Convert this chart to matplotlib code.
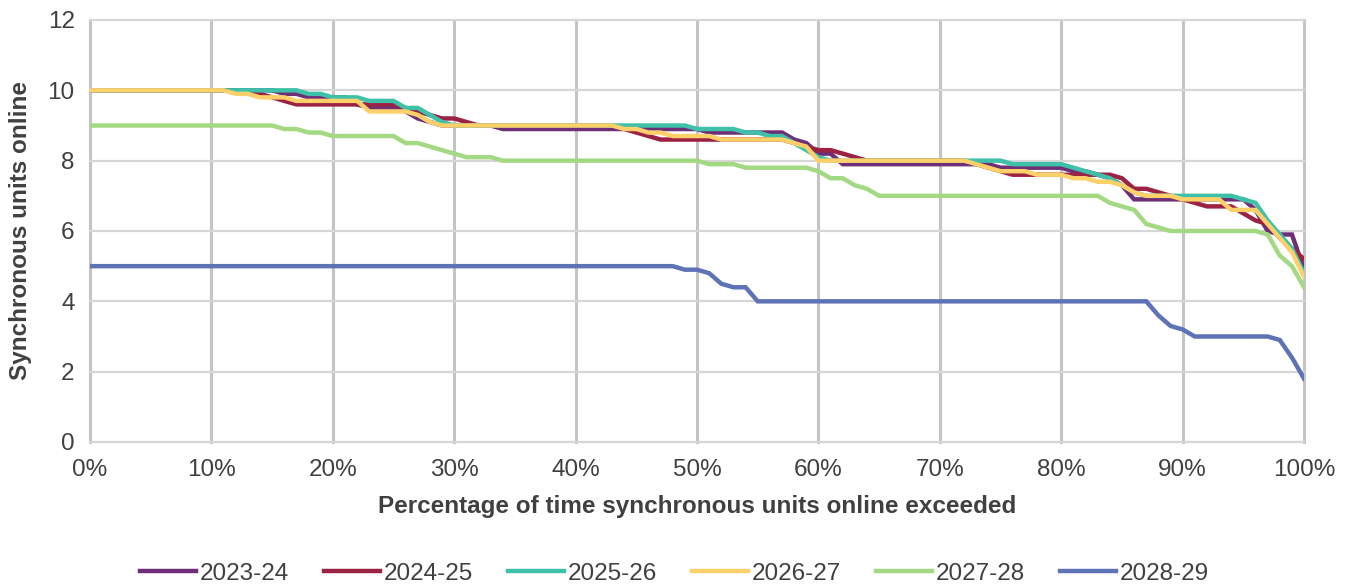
import matplotlib
matplotlib.use("Agg")
import matplotlib.pyplot as plt
from matplotlib.ticker import FuncFormatter

# Percentage of time exceeded (0% .. 100% in 1% steps)
pct = list(range(0, 101))

units_2023_24 = [
    10, 10, 10, 10, 10, 10, 10, 10, 10, 10,
    10, 10, 10, 10, 10, 10, 9.9, 9.9, 9.8, 9.8,
    9.8, 9.8, 9.6, 9.5, 9.5, 9.5, 9.4, 9.2, 9.1, 9.0,
    9.0, 9.0, 9.0, 9.0, 8.9, 8.9, 8.9, 8.9, 8.9, 8.9,
    8.9, 8.9, 8.9, 8.9, 8.9, 8.9, 8.9, 8.9, 8.9, 8.9,
    8.9, 8.8, 8.8, 8.8, 8.8, 8.8, 8.8, 8.8, 8.6, 8.5,
    8.2, 8.2, 7.9, 7.9, 7.9, 7.9, 7.9, 7.9, 7.9, 7.9,
    7.9, 7.9, 7.9, 7.9, 7.9, 7.8, 7.8, 7.8, 7.8, 7.8,
    7.8, 7.7, 7.7, 7.6, 7.5, 7.3, 6.9, 6.9, 6.9, 6.9,
    6.9, 6.9, 6.9, 6.9, 6.9, 6.9, 6.6, 6.0, 5.9, 5.9,
    4.9,
]

units_2024_25 = [
    10, 10, 10, 10, 10, 10, 10, 10, 10, 10,
    10, 10, 10, 9.9, 9.9, 9.8, 9.7, 9.6, 9.6, 9.6,
    9.6, 9.6, 9.6, 9.6, 9.6, 9.6, 9.5, 9.4, 9.3, 9.2,
    9.2, 9.1, 9.0, 9.0, 9.0, 9.0, 9.0, 9.0, 9.0, 9.0,
    9.0, 9.0, 9.0, 9.0, 8.9, 8.8, 8.7, 8.6, 8.6, 8.6,
    8.6, 8.6, 8.6, 8.6, 8.6, 8.6, 8.6, 8.6, 8.5, 8.4,
    8.3, 8.3, 8.2, 8.1, 8.0, 8.0, 8.0, 8.0, 8.0, 8.0,
    8.0, 8.0, 8.0, 7.9, 7.8, 7.7, 7.6, 7.6, 7.6, 7.6,
    7.6, 7.6, 7.6, 7.6, 7.6, 7.5, 7.2, 7.2, 7.1, 7.0,
    6.9, 6.8, 6.7, 6.7, 6.7, 6.5, 6.3, 6.2, 5.8, 5.5,
    5.2,
]

units_2025_26 = [
    10, 10, 10, 10, 10, 10, 10, 10, 10, 10,
    10, 10, 10, 10, 10, 10, 10, 10, 9.9, 9.9,
    9.8, 9.8, 9.8, 9.7, 9.7, 9.7, 9.5, 9.5, 9.3, 9.1,
    9.0, 9.0, 9.0, 9.0, 9.0, 9.0, 9.0, 9.0, 9.0, 9.0,
    9.0, 9.0, 9.0, 9.0, 9.0, 9.0, 9.0, 9.0, 9.0, 9.0,
    8.9, 8.9, 8.9, 8.9, 8.8, 8.8, 8.7, 8.7, 8.5, 8.3,
    8.1, 8.0, 8.0, 8.0, 8.0, 8.0, 8.0, 8.0, 8.0, 8.0,
    8.0, 8.0, 8.0, 8.0, 8.0, 8.0, 7.9, 7.9, 7.9, 7.9,
    7.9, 7.8, 7.7, 7.6, 7.5, 7.3, 7.1, 7.0, 7.0, 7.0,
    7.0, 7.0, 7.0, 7.0, 7.0, 6.9, 6.8, 6.3, 5.9, 5.5,
    4.8,
]

units_2026_27 = [
    10, 10, 10, 10, 10, 10, 10, 10, 10, 10,
    10, 10, 9.9, 9.9, 9.8, 9.8, 9.8, 9.7, 9.7, 9.7,
    9.7, 9.7, 9.7, 9.4, 9.4, 9.4, 9.4, 9.3, 9.1, 9.0,
    9.0, 9.0, 9.0, 9.0, 9.0, 9.0, 9.0, 9.0, 9.0, 9.0,
    9.0, 9.0, 9.0, 9.0, 8.9, 8.9, 8.8, 8.8, 8.7, 8.7,
    8.7, 8.7, 8.6, 8.6, 8.6, 8.6, 8.6, 8.6, 8.5, 8.4,
    8.0, 8.0, 8.0, 8.0, 8.0, 8.0, 8.0, 8.0, 8.0, 8.0,
    8.0, 8.0, 8.0, 7.9, 7.8, 7.7, 7.7, 7.7, 7.6, 7.6,
    7.6, 7.5, 7.5, 7.4, 7.4, 7.3, 7.1, 7.0, 7.0, 7.0,
    6.9, 6.9, 6.9, 6.9, 6.6, 6.6, 6.6, 6.2, 5.8, 5.4,
    4.7,
]

units_2027_28 = [
    9, 9, 9, 9, 9, 9, 9, 9, 9, 9,
    9, 9, 9, 9, 9, 9, 8.9, 8.9, 8.8, 8.8,
    8.7, 8.7, 8.7, 8.7, 8.7, 8.7, 8.5, 8.5, 8.4, 8.3,
    8.2, 8.1, 8.1, 8.1, 8.0, 8.0, 8.0, 8.0, 8.0, 8.0,
    8.0, 8.0, 8.0, 8.0, 8.0, 8.0, 8.0, 8.0, 8.0, 8.0,
    8.0, 7.9, 7.9, 7.9, 7.8, 7.8, 7.8, 7.8, 7.8, 7.8,
    7.7, 7.5, 7.5, 7.3, 7.2, 7.0, 7.0, 7.0, 7.0, 7.0,
    7.0, 7.0, 7.0, 7.0, 7.0, 7.0, 7.0, 7.0, 7.0, 7.0,
    7.0, 7.0, 7.0, 7.0, 6.8, 6.7, 6.6, 6.2, 6.1, 6.0,
    6.0, 6.0, 6.0, 6.0, 6.0, 6.0, 6.0, 5.9, 5.3, 5.0,
    4.4,
]

units_2028_29 = [
    5, 5, 5, 5, 5, 5, 5, 5, 5, 5,
    5, 5, 5, 5, 5, 5, 5, 5, 5, 5,
    5, 5, 5, 5, 5, 5, 5, 5, 5, 5,
    5, 5, 5, 5, 5, 5, 5, 5, 5, 5,
    5, 5, 5, 5, 5, 5, 5, 5, 5, 4.9,
    4.9, 4.8, 4.5, 4.4, 4.4, 4.0, 4.0, 4.0, 4.0, 4.0,
    4.0, 4.0, 4.0, 4.0, 4.0, 4.0, 4.0, 4.0, 4.0, 4.0,
    4.0, 4.0, 4.0, 4.0, 4.0, 4.0, 4.0, 4.0, 4.0, 4.0,
    4.0, 4.0, 4.0, 4.0, 4.0, 4.0, 4.0, 4.0, 3.6, 3.3,
    3.2, 3.0, 3.0, 3.0, 3.0, 3.0, 3.0, 3.0, 2.9, 2.4,
    1.8,
]

series_labels = ["2023-24", "2024-25", "2025-26", "2026-27", "2027-28", "2028-29"]
series_values = [units_2023_24, units_2024_25, units_2025_26,
                 units_2026_27, units_2027_28, units_2028_29]
series_colors = ["#6E2E78", "#9C2244", "#3FC1A9", "#FDD06A", "#A2D982", "#5E72B6"]

plt.rcParams["font.family"] = ["Liberation Sans", "DejaVu Sans"]

fig = plt.figure(figsize=(13.49, 5.88), dpi=100)
ax = fig.add_axes([0.0667, 0.2483, 0.9, 0.7177])

for vals, lab, col in zip(series_values, series_labels, series_colors):
    ax.plot(pct, vals, color=col, lw=3.2, label=lab, solid_joinstyle="miter")

ax.set_xlim(0, 100)
ax.set_ylim(0, 12)
ax.set_xticks(range(0, 101, 10))
ax.set_yticks(range(0, 13, 2))
ax.xaxis.set_major_formatter(FuncFormatter(lambda v, p: f"{int(v)}%"))

for s in ax.spines.values():
    s.set_visible(False)
ax.tick_params(length=0, labelsize=17.5, colors="#404040")
ax.tick_params(axis="x", pad=12)
ax.tick_params(axis="y", pad=11)

ax.grid(axis="x", color="#C4C4C4", lw=2.2)
ax.grid(axis="y", color="#D6D6D6", lw=1.6)
ax.set_axisbelow(True)
for gl in ax.get_xgridlines() + ax.get_ygridlines():
    gl.set_clip_on(False)

ax.set_xlabel("Percentage of time synchronous units online exceeded",
              fontsize=17.5, fontweight="bold", color="#404040", labelpad=10)
ax.set_ylabel("Synchronous units online",
              fontsize=17.5, fontweight="bold", color="#404040", labelpad=11)

leg = fig.legend(loc="center", bbox_to_anchor=(0.5, 0.024), ncol=6,
                 frameon=False, fontsize=17.5, handlelength=2.3,
                 handletextpad=0.15, columnspacing=1.45)
for t in leg.get_texts():
    t.set_color("#404040")

fig.savefig("out.png", dpi=100)
